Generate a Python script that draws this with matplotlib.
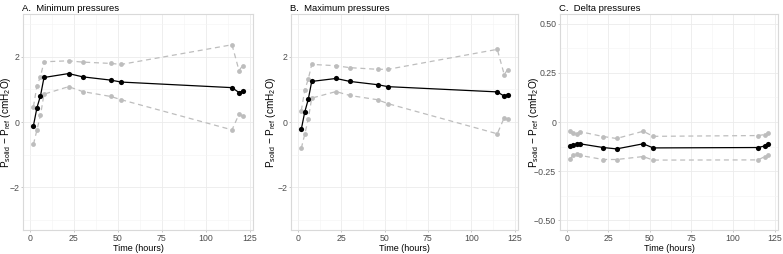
import matplotlib
matplotlib.use("Agg")
import matplotlib.pyplot as plt
from matplotlib.ticker import MultipleLocator

plt.rcParams['font.family'] = ['Liberation Sans', 'DejaVu Sans']
plt.rcParams['mathtext.fontset'] = 'custom'
plt.rcParams['mathtext.rm'] = 'Liberation Sans'
plt.rcParams['mathtext.it'] = 'Liberation Sans'

# time points (hours)
hours = [2, 4, 6, 8, 22, 30, 46, 52, 115, 119, 121]

# A. minimum pressures
min_mean = [-0.11, 0.44, 0.80, 1.36, 1.48, 1.38, 1.28, 1.22, 1.05, 0.90, 0.95]
min_upper = [0.47, 1.11, 1.39, 1.84, 1.87, 1.83, 1.79, 1.76, 2.36, 1.57, 1.72]
min_lower = [-0.68, -0.24, 0.21, 0.85, 1.08, 0.93, 0.78, 0.68, -0.24, 0.24, 0.18]

# B. maximum pressures
max_mean = [-0.22, 0.31, 0.69, 1.24, 1.33, 1.24, 1.14, 1.08, 0.92, 0.79, 0.84]
max_upper = [0.35, 0.98, 1.31, 1.76, 1.72, 1.66, 1.61, 1.61, 2.22, 1.45, 1.60]
max_lower = [-0.80, -0.37, 0.09, 0.73, 0.93, 0.81, 0.68, 0.56, -0.36, 0.13, 0.08]

# C. delta pressures
delta_mean = [-0.120, -0.118, -0.113, -0.111, -0.130, -0.137, -0.111, -0.132, -0.130, -0.122, -0.111]
delta_upper = [-0.046, -0.057, -0.059, -0.049, -0.074, -0.084, -0.047, -0.073, -0.069, -0.064, -0.054]
delta_lower = [-0.189, -0.170, -0.162, -0.170, -0.191, -0.191, -0.176, -0.194, -0.193, -0.176, -0.169]

panels = [
    ("A.  Minimum pressures", min_mean, min_upper, min_lower, (-3.3, 3.3), [-2, 0, 2], ["\u22122", "0", "2"], 1),
    ("B.  Maximum pressures", max_mean, max_upper, max_lower, (-3.3, 3.3), [-2, 0, 2], ["\u22122", "0", "2"], 1),
    ("C.  Delta pressures", delta_mean, delta_upper, delta_lower, (-0.55, 0.55),
     [-0.5, -0.25, 0, 0.25, 0.5], ["\u22120.50", "\u22120.25", "0", "0.25", "0.50"], 0.125),
]

W, H = 783, 254
lefts = [23, 291, 560]
rights = [253, 518, 778]
label_x = [13, 278, 541]   # right edge of the rotated y label, px
top, bottom = 14, 230

fig = plt.figure(figsize=(W / 100, H / 100), dpi=100)
ylabel = r'$\mathregular{P_{solid}}$ $-$ $\mathregular{P_{ref}}$ (cmH$\mathregular{_2}$O)'

for (title, mean, upper, lower, ylim, yt, ytl, minor), l, r, lx in zip(panels, lefts, rights, label_x):
    ax = fig.add_axes([l / W, 1 - bottom / H, (r - l) / W, (bottom - top) / H])
    gray = '#bdbdbd'
    for band in (upper, lower):
        ax.plot(hours, band, color=gray, ls=(0, (4, 3)), lw=0.9, zorder=2)
        ax.scatter(hours, band, color=gray, s=12, zorder=3, linewidths=0)
    ax.plot(hours, mean, color='black', lw=0.9, zorder=4)
    ax.scatter(hours, mean, color='black', s=14, zorder=5, linewidths=0)

    ax.set_xlim(-3.95, 126.95)
    ax.set_ylim(*ylim)
    ax.set_xticks([0, 25, 50, 75, 100, 125])
    ax.xaxis.set_minor_locator(MultipleLocator(12.5))
    ax.set_yticks(yt)
    ax.set_yticklabels(ytl)
    ax.yaxis.set_minor_locator(MultipleLocator(minor))
    ax.grid(which='major', color='#ebebeb', lw=0.6)
    ax.grid(which='minor', color='#f4f4f4', lw=0.4)
    ax.set_axisbelow(True)
    for s in ax.spines.values():
        s.set_color('#d9d9d9')
        s.set_linewidth(0.8)
    ax.tick_params(which='major', length=1.5, width=0.5, color='#b3b3b3',
                   labelsize=6.3, labelcolor='#4d4d4d', pad=1.2)
    ax.tick_params(which='minor', length=0)
    ax.set_title(title, loc='left', fontsize=6.8, pad=2, x=-0.003)
    ax.set_xlabel('Time (hours)', fontsize=6.5, labelpad=1)
    ax.set_ylabel(ylabel, fontsize=7.2)
    ax.yaxis.set_label_coords((lx - l) / (r - l), 0.5)

fig.savefig('out.png', dpi=100)
